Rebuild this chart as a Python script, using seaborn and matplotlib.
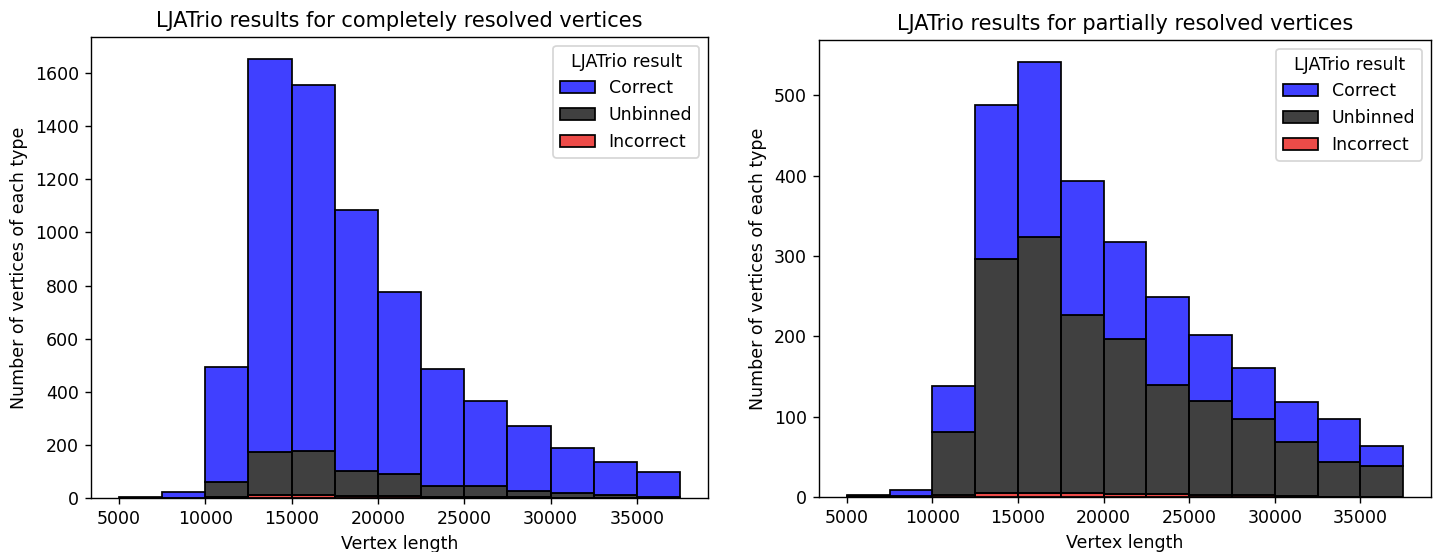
import numpy as np
import pandas as pd
import matplotlib
matplotlib.use("Agg")
import matplotlib.pyplot as plt
import seaborn as sns

bin_edges = [5000, 7500, 10000, 12500, 15000, 17500, 20000, 22500, 25000, 27500, 30000, 32500, 35000, 37500]
categories = ["Correct", "Unbinned", "Incorrect"]

complete_correct = [3, 22, 435, 1479, 1378, 985, 685, 441, 318, 244, 171, 123, 93]
complete_unbinned = [0, 0, 56, 161, 164, 92, 83, 41, 44, 24, 16, 11, 5]
complete_incorrect = [0, 0, 4, 13, 13, 8, 6, 3, 2, 2, 1, 1, 0]

partial_correct = [1, 8, 57, 191, 218, 166, 121, 110, 83, 64, 49, 54, 25]
partial_unbinned = [1, 1, 79, 292, 319, 222, 193, 135, 117, 95, 68, 43, 38]
partial_incorrect = [0, 0, 2, 5, 5, 5, 4, 4, 2, 2, 1, 0, 0]

palette = {"Correct": "blue", "Unbinned": "black", "Incorrect": "#e80e0a"}


def build(correct, unbinned, incorrect):
    mids = [(a + b) / 2 for a, b in zip(bin_edges[:-1], bin_edges[1:])]
    rows = []
    for cat, vals in zip(categories, [correct, unbinned, incorrect]):
        for m, v in zip(mids, vals):
            rows.append({"Vertex length": m, "LJATrio result": cat, "count": v})
    return pd.DataFrame(rows)


DPI = 125
W, H = 1437, 552
fig = plt.figure(figsize=(W / DPI, H / DPI), dpi=DPI)


def rect(x0, y0, x1, y1):
    return [x0 / W, 1 - y1 / H, (x1 - x0) / W, (y1 - y0) / H]


axes = [fig.add_axes(rect(91, 37, 708, 498)), fig.add_axes(rect(819, 40, 1431, 497))]

panels = [
    (build(complete_correct, complete_unbinned, complete_incorrect),
     "LJATrio results for completely resolved vertices"),
    (build(partial_correct, partial_unbinned, partial_incorrect),
     "LJATrio results for partially resolved vertices"),
]

for ax, (df, title) in zip(axes, panels):
    sns.histplot(data=df, x="Vertex length", weights="count", hue="LJATrio result",
                 hue_order=categories, multiple="stack", bins=bin_edges,
                 palette=palette, edgecolor="black", linewidth=1, alpha=0.75, ax=ax)
    ax.set_title(title, fontsize=12)
    ax.set_ylabel("Number of vertices of each type")
    ax.set_xlabel("Vertex length")
    ax.set_xticks([5000, 10000, 15000, 20000, 25000, 30000, 35000])
    sns.move_legend(ax, "upper right", title="LJATrio result")

fig.savefig("out.png", dpi=DPI)
